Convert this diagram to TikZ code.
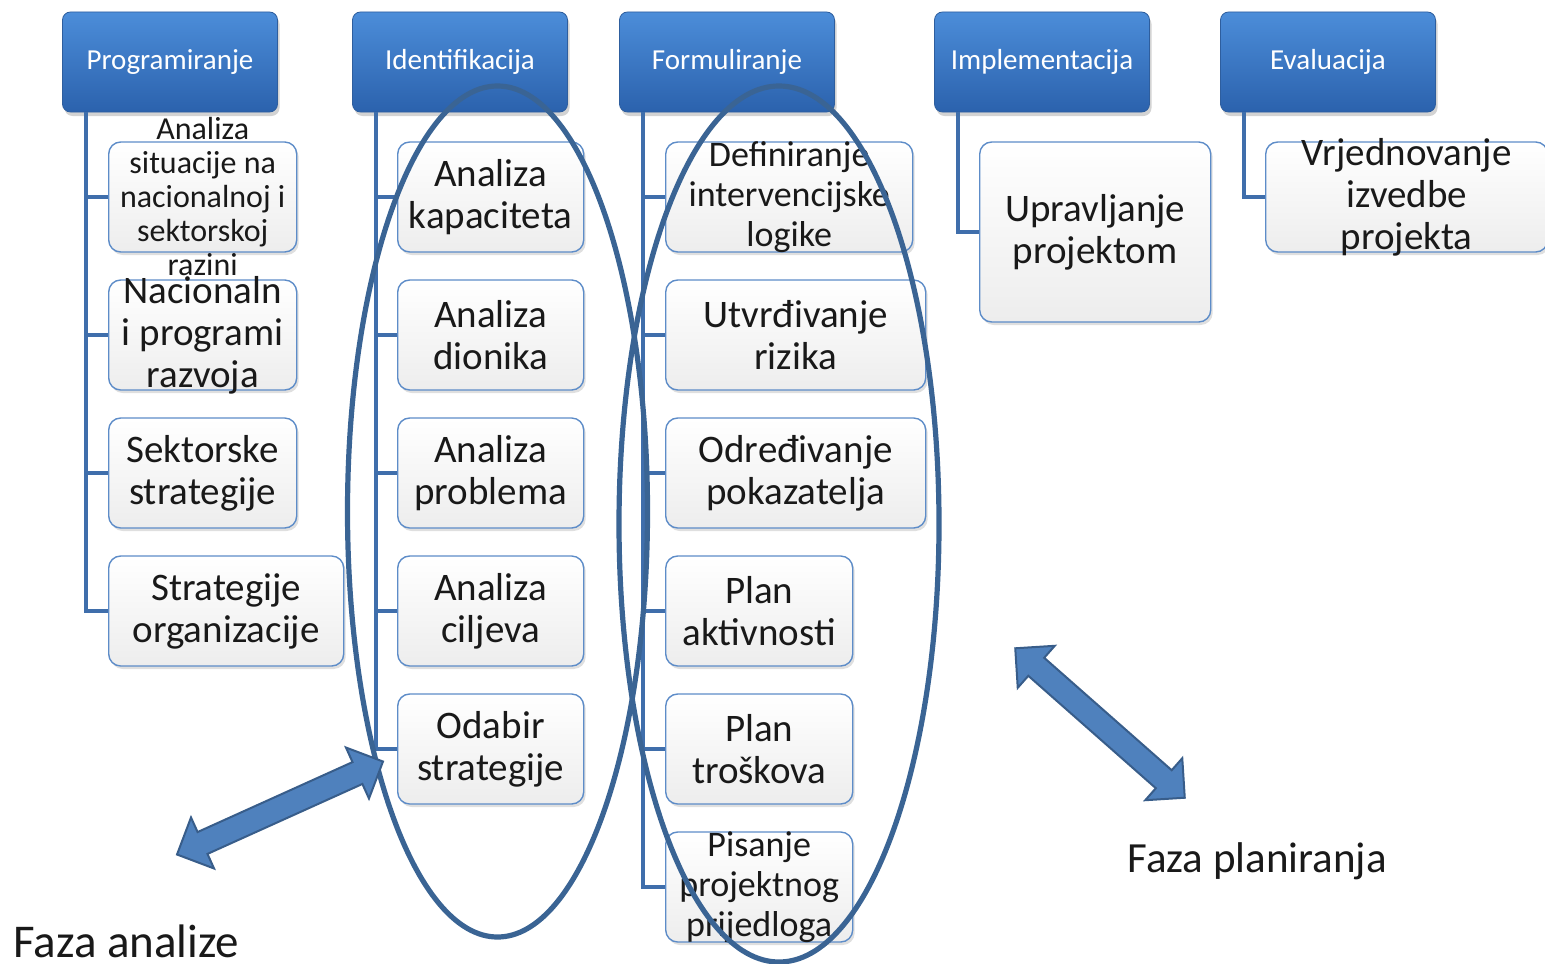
\documentclass[tikz,border=0pt]{standalone}
\usepackage{fontspec}
\setmainfont{Carlito}
\usepackage{tikz}
\usetikzlibrary{shapes.arrows,shadows}

\definecolor{headtop}{HTML}{4C8DD9}
\definecolor{headbot}{HTML}{2B62AD}
\definecolor{headedge}{HTML}{2E5E9E}
\definecolor{leafedge}{HTML}{5D8CC8}
\definecolor{leafbot}{HTML}{EDEDED}
\definecolor{connblue}{HTML}{3F6EAB}
\definecolor{ringblue}{HTML}{3A6494}
\definecolor{arrowfill}{HTML}{4F81BD}
\definecolor{arrowedge}{HTML}{385D8A}

\begin{document}
\begin{tikzpicture}[x=0.5pt,y=-0.5pt,
  head/.style={rounded corners=4pt,minimum width=107.5pt,minimum height=50pt,
    top color=headtop,bottom color=headbot,draw=headedge,line width=0.4pt,
    text=white,font=\fontsize{14.5}{17}\selectfont,
    drop shadow={opacity=0.35,shadow xshift=1pt,shadow yshift=-2pt}},
  leaf/.style={anchor=west,rounded corners=6pt,minimum height=55pt,inner sep=0pt,
    top color=white,bottom color=leafbot,draw=leafedge,line width=0.7pt,
    drop shadow={opacity=0.25,shadow xshift=1pt,shadow yshift=-1.5pt}},
  lbl/.style={align=center,text=black!90,font=\fontsize{19.5}{21}\selectfont},
  lblsmall/.style={align=center,text=black!90,font=\fontsize{18}{20}\selectfont},
  lbltiny/.style={align=center,text=black!90,font=\fontsize{16}{17}\selectfont},
  conn/.style={draw=connblue,line width=2pt},
  ring/.style={draw=ringblue,line width=2.6pt},
  dblarrow/.style={double arrow,double arrow head extend=8pt,inner xsep=0pt,inner ysep=5.5pt,
    minimum width=0pt,fill=arrowfill,draw=arrowedge,line width=1pt}]
\useasboundingbox (0,0) rectangle (1545,963);

% phases
\foreach \n/\x/\txt in {prog/170/Programiranje,ident/460/Identifikacija,form/727/Formuliranje,
                       impl/1042/Implementacija,eval/1328/Evaluacija}
  \node[head] (\n) at (\x,62) {\txt};

% Programiranje
\node[leaf,minimum width=94pt,label={[lbltiny]center:Analiza\\situacije na\\nacionalnoj i\\sektorskoj\\razini}] (p1) at (108,197) {};
\node[leaf,minimum width=94pt,label={[lbl]center:Nacionaln\\i programi\\razvoja}] (p2) at (108,335) {};
\node[leaf,minimum width=94pt,label={[lbl]center:Sektorske\\strategije}] (p3) at (108,473) {};
\node[leaf,minimum width=117.5pt,label={[lbl]center:Strategije\\organizacije}] (p4) at (108,611) {};

% Identifikacija
\node[leaf,minimum width=93pt,label={[lbl]center:Analiza\\kapaciteta}] (i1) at (397,197) {};
\node[leaf,minimum width=93pt,label={[lbl]center:Analiza\\dionika}] (i2) at (397,335) {};
\node[leaf,minimum width=93pt,label={[lbl]center:Analiza\\problema}] (i3) at (397,473) {};
\node[leaf,minimum width=93pt,label={[lbl]center:Analiza\\ciljeva}] (i4) at (397,611) {};
\node[leaf,minimum width=93pt,label={[lbl]center:Odabir\\strategije}] (i5) at (397,749) {};

% Formuliranje
\node[leaf,minimum width=123.5pt,label={[lblsmall]center:Definiranje\\intervencijske\\logike}] (f1) at (665,197) {};
\node[leaf,minimum width=130pt,label={[lbl]center:Utvrđivanje\\rizika}] (f2) at (665,335) {};
\node[leaf,minimum width=130pt,label={[lbl]center:Određivanje\\pokazatelja}] (f3) at (665,473) {};
\node[leaf,minimum width=93.5pt,label={[lbl]center:Plan\\aktivnosti}] (f4) at (665,611) {};
\node[leaf,minimum width=93.5pt,label={[lbl]center:Plan\\troškova}] (f5) at (665,749) {};
\node[leaf,minimum width=93.5pt,label={[lblsmall]center:Pisanje\\projektnog\\prijedloga}] (f6) at (665,887) {};

% Implementacija, Evaluacija
\node[leaf,minimum width=115.5pt,minimum height=90pt,label={[lbl]center:Upravljanje\\projektom}] (m1) at (979,232) {};
\node[leaf,minimum width=141pt,label={[lbl]center:Vrjednovanje\\izvedbe\\projekta}] (e1) at (1265,197) {};

% tree lines
\foreach \n in {1,...,4} \draw[conn] ([xshift=12pt]prog.south west) |- (p\n.west);
\foreach \n in {1,...,5} \draw[conn] ([xshift=12pt]ident.south west) |- (i\n.west);
\foreach \n in {1,...,6} \draw[conn] ([xshift=12pt]form.south west) |- (f\n.west);
\draw[conn] ([xshift=12pt]impl.south west) |- (m1.west);
\draw[conn] ([xshift=12pt]eval.south west) |- (e1.west);

% phase rings
\draw[ring] (497.5,511.5) ellipse [x radius=150,y radius=425.5];
\draw[ring] (779,524) ellipse [x radius=160,y radius=438];

% arrows and captions
\node[dblarrow,rotate=24.3,minimum height=113pt] (arrA) at (280,808) {};
\node[dblarrow,rotate=-41.4,minimum height=113pt] (arrP) at (1100,723) {};
\node[anchor=base west,font=\fontsize{23.5}{27}\selectfont,text=black!90,inner sep=0pt] (fazaA) at (13,957) {Faza analize};
\node[anchor=base west,font=\fontsize{21.5}{25}\selectfont,text=black!90,inner sep=0pt] (fazaP) at (1127,872) {Faza planiranja};
\end{tikzpicture}
\end{document}
